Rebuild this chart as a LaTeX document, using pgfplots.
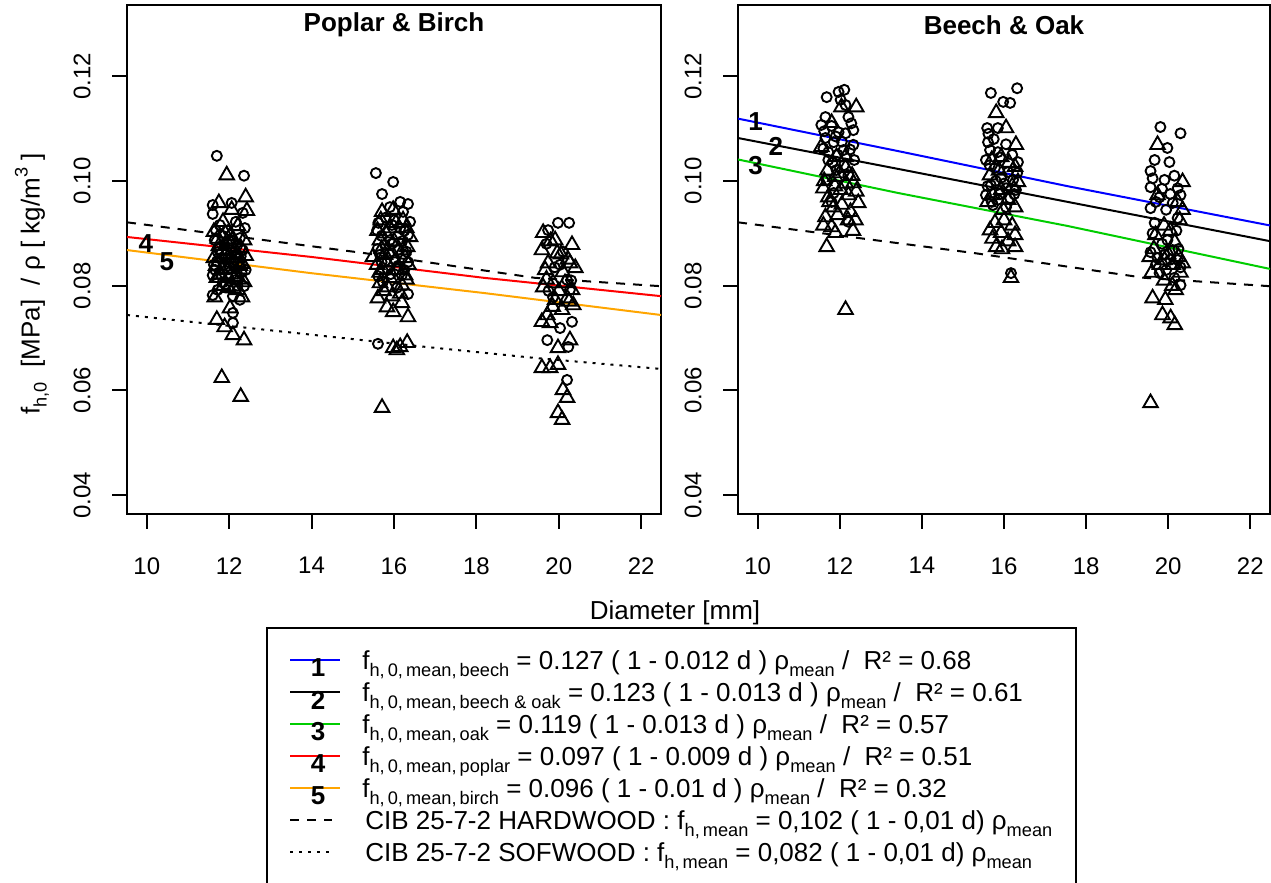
\documentclass[border=0pt]{standalone}
\usepackage{fontspec}
\setmainfont{Liberation Sans}
\usepackage{pgfplots}
\pgfplotsset{compat=1.18}

\definecolor{rgreen}{RGB}{0,205,0}
\definecolor{rorange}{RGB}{255,165,0}

% subscript / superscript helpers for the formula texts
\newcommand{\lsub}[1]{\raisebox{-3.5pt}{\fontsize{9.1}{10}\selectfont #1}}
\newcommand{\lsup}[1]{\raisebox{6pt}{\fontsize{9.1}{10}\selectfont #1}}
\newcommand{\labfont}{\fontsize{13}{15}\selectfont}

\tikzset{numlabel/.style={font=\labfont\bfseries}}

\pgfplotsset{
  circ/.style={only marks, mark=o, mark size=2.5pt,
               mark options={line width=0.95pt, black}},
  tri/.style={only marks, mark=triangle, mark size=4.2pt,
              mark options={line width=0.95pt, black}},
  fitline/.style={no marks, line width=1pt},
  hardwood/.style={no marks, black, line width=1pt, dash pattern=on 4.5pt off 4pt},
  softwood/.style={no marks, black, line width=1pt, dash pattern=on 1.5pt off 3pt},
  panel/.style={
    scale only axis,
    height=254.5pt,
    xmin=9.52, xmax=22.48, ymin=0.0364, ymax=0.1336,
    xtick={10,12,14,16,18,20,22},
    xticklabels={10,12,14,16,18,20,22},
    ytick={0.04,0.06,0.08,0.10,0.12},
    yticklabels={0.04,0.06,0.08,0.10,0.12},
    xtick pos=bottom, ytick pos=left,
    tick align=outside,
    major tick length=7.5pt,
    every major tick/.style={black, line width=1pt},
    axis line style={line width=1pt},
    ticklabel style={font=\fontsize{12}{14}\selectfont},
    yticklabel style={rotate=90, anchor=south, inner sep=0pt},
    xticklabel style={anchor=north, inner sep=0pt},
    xticklabel shift=14pt,
    yticklabel shift=10.5pt,
  }
}

\begin{document}
\begin{tikzpicture}

% ---------------- Poplar & Birch ----------------
\begin{axis}[panel, at={(63.5pt,184.5pt)}, anchor=south west, width=267pt]
\addplot[circ] coordinates {
(11.70,0.1048) (12.36,0.1010) (11.60,0.0954) (12.06,0.0958) (12.33,0.0939)
(11.60,0.0937) (11.77,0.0916) (12.16,0.0922) (11.97,0.0906) (12.38,0.0910)
(11.65,0.0887) (12.26,0.0891) (11.89,0.0878) (12.06,0.0872) (11.72,0.0864)
(12.33,0.0868) (11.92,0.0853) (12.21,0.0845) (11.63,0.0840) (12.02,0.0834)
(12.40,0.0830) (11.80,0.0820) (11.60,0.0820) (12.16,0.0811) (11.92,0.0803)
(12.36,0.0799) (11.72,0.0792) (11.60,0.0782) (12.09,0.0780) (12.26,0.0773)
(12.09,0.0748) (12.09,0.0729) (11.82,0.0853) (12.14,0.0859)
(11.68,0.0905) (11.85,0.0895) (12.00,0.0885) (12.20,0.0878) (11.75,0.0870)
(11.95,0.0866) (12.28,0.0856) (11.70,0.0846) (11.88,0.0840) (12.12,0.0836)
(12.30,0.0825) (11.66,0.0830) (11.98,0.0815) (12.20,0.0800) (11.84,0.0806)
(15.56,0.1015) (15.98,0.0998) (15.71,0.0975) (16.15,0.0960) (16.34,0.0956)
(15.90,0.0950) (16.22,0.0941) (16.39,0.0922) (15.59,0.0906) (15.90,0.0887)
(16.34,0.0897) (16.34,0.0845) (16.34,0.0784) (15.61,0.0689)
(15.78,0.0878) (16.10,0.0868) (15.66,0.0859) (16.02,0.0849) (15.85,0.0830)
(16.19,0.0820) (15.73,0.0807) (16.07,0.0796) (15.95,0.0916) (16.15,0.0910)
(15.62,0.0920) (15.80,0.0930) (16.00,0.0925) (16.25,0.0905) (15.70,0.0895)
(15.95,0.0880) (16.20,0.0885) (15.60,0.0870) (15.88,0.0860) (16.30,0.0865)
(15.70,0.0845) (16.10,0.0838) (15.92,0.0822) (16.25,0.0830) (15.62,0.0818)
(19.98,0.0920) (20.25,0.0920) (19.74,0.0906) (20.20,0.0811) (19.86,0.0778)
(20.32,0.0731) (20.03,0.0719) (19.72,0.0696) (20.23,0.0683) (20.20,0.0620)
(20.03,0.0840) (20.27,0.0792)
(19.70,0.0880) (20.10,0.0865) (19.90,0.0835) (20.30,0.0810) (19.75,0.0790)
};
\addplot[tri] coordinates {
(11.94,0.1011) (12.40,0.0969) (11.75,0.0958) (12.06,0.0945) (12.43,0.0943)
(11.85,0.0922) (12.21,0.0914) (11.63,0.0903) (12.02,0.0895) (12.36,0.0887)
(11.75,0.0876) (12.14,0.0868) (11.92,0.0861) (12.40,0.0857) (11.63,0.0853)
(12.06,0.0845) (12.26,0.0838) (11.82,0.0830) (11.70,0.0815) (12.16,0.0818)
(12.36,0.0807) (11.97,0.0796) (11.65,0.0778) (12.31,0.0778) (12.02,0.0757)
(11.70,0.0735) (11.89,0.0721) (12.09,0.0706) (12.36,0.0696) (11.82,0.0624)
(12.28,0.0588) (11.97,0.0880) (12.21,0.0792)
(11.72,0.0890) (11.90,0.0900) (12.10,0.0888) (12.28,0.0872) (11.84,0.0868)
(12.00,0.0858) (12.20,0.0852) (11.68,0.0838) (11.94,0.0832) (12.32,0.0842)
(11.78,0.0822) (12.06,0.0822) (12.24,0.0812) (11.86,0.0800) (12.10,0.0795)
(15.71,0.0941) (15.98,0.0945) (16.22,0.0925) (15.66,0.0887) (16.39,0.0893)
(15.49,0.0855) (16.32,0.0874) (15.73,0.0830) (16.27,0.0820) (15.61,0.0776)
(15.83,0.0759) (15.98,0.0750) (16.19,0.0767) (16.34,0.0740) (15.98,0.0681)
(16.15,0.0683) (16.32,0.0691) (16.07,0.0677) (15.71,0.0567)
(15.90,0.0910) (16.10,0.0897) (15.78,0.0859) (16.02,0.0845) (15.59,0.0840)
(16.19,0.0801) (15.85,0.0797) (15.95,0.0780) (15.66,0.0805) (16.27,0.0853)
(15.68,0.0925) (16.05,0.0920) (16.30,0.0910) (15.80,0.0900) (15.60,0.0905)
(16.00,0.0885) (16.22,0.0868) (15.70,0.0870) (15.95,0.0862) (16.35,0.0840)
(15.82,0.0845) (16.08,0.0830) (15.65,0.0825) (16.30,0.0812) (15.90,0.0815)
(16.15,0.0785) (15.75,0.0790)
(19.62,0.0901) (19.91,0.0887) (20.32,0.0878) (19.59,0.0868) (19.96,0.0862)
(19.74,0.0843) (20.27,0.0843) (20.40,0.0834) (19.67,0.0830) (20.10,0.0826)
(19.62,0.0797) (19.86,0.0805) (20.20,0.0776) (20.35,0.0763) (20.08,0.0754)
(19.72,0.0744) (19.59,0.0731) (19.79,0.0729) (20.27,0.0696) (19.98,0.0681)
(19.59,0.0643) (19.79,0.0643) (19.98,0.0649) (20.10,0.0601) (20.20,0.0586)
(19.98,0.0557) (20.08,0.0544) (20.15,0.0805) (20.32,0.0792) (19.91,0.0773)
(19.80,0.0885) (20.05,0.0860) (20.22,0.0850) (19.70,0.0812) (20.00,0.0790)
(20.25,0.0770) (19.85,0.0760)
};
% CIB 25-7-2 hardwood and softwood
\addplot[hardwood] coordinates {(9.52,0.0921) (15.30,0.0862) (19.42,0.0815) (22.48,0.0799)};
\addplot[softwood] coordinates {(9.52,0.0744) (13.33,0.0712) (16.78,0.0683) (19.42,0.0662) (22.48,0.0641)};
% fitted poplar (4) and birch (5)
\addplot[fitline, red] coordinates {(9.52,0.0893) (13.98,0.0855) (18.18,0.0815) (22.48,0.0780)};
\addplot[fitline, rorange] coordinates {(9.52,0.0868) (13.98,0.0824) (18.18,0.0786) (22.48,0.0744)};
\node[numlabel] at (axis cs:9.98,0.0880) {4};
\node[numlabel] at (axis cs:10.49,0.0845) {5};
\node[numlabel, yshift=-10pt] at (rel axis cs:0.5,1) {Poplar \& Birch};
\end{axis}

% ---------------- Beech & Oak ----------------
\begin{axis}[panel, at={(369pt,184.5pt)}, anchor=south west, width=266pt]
\addplot[circ] coordinates {
(11.68,0.1160) (11.97,0.1170) (12.11,0.1174) (12.02,0.1155) (12.14,0.1145)
(11.65,0.1122) (11.55,0.1107) (12.21,0.1122) (12.33,0.1097) (11.97,0.1093)
(12.14,0.1091) (11.65,0.1082) (11.85,0.1074) (12.33,0.1069) (11.72,0.1055)
(11.72,0.1040) (11.85,0.0977) (11.80,0.0960) (12.21,0.0922)
(12.09,0.1059) (11.92,0.1021) (12.21,0.1011) (11.68,0.1002)
(11.62,0.1095) (11.80,0.1105) (12.28,0.1110) (11.90,0.1085) (12.05,0.1075)
(12.25,0.1060) (11.60,0.1062) (11.95,0.1050) (12.35,0.1040) (11.82,0.1035)
(12.10,0.1030)
(15.68,0.1168) (16.32,0.1177) (15.98,0.1151) (16.15,0.1149) (15.59,0.1101)
(15.85,0.1101) (15.61,0.1074) (15.66,0.1059) (15.85,0.1055) (15.56,0.1040)
(16.34,0.1036) (15.56,0.0973) (15.73,0.0954) (16.17,0.0824)
(15.78,0.1025) (16.10,0.1017) (15.93,0.1006) (16.22,0.1002) (15.68,0.0992)
(16.05,0.0986) (16.29,0.0983) (15.85,0.0964) (16.15,0.0967)
(15.62,0.1090) (15.75,0.1080) (16.05,0.1070) (15.90,0.1045) (16.20,0.1050)
(15.65,0.1030) (16.32,0.1015) (15.80,0.1000) (16.00,0.0995) (15.60,0.0990)
(16.25,0.0975) (15.90,0.0975) (15.70,0.0960) (16.05,0.0950)
(19.81,0.1103) (20.30,0.1091) (19.98,0.1063) (19.67,0.1040) (20.03,0.1036)
(19.57,0.1019) (19.91,0.1002) (19.57,0.0988) (20.23,0.0986) (19.79,0.0969)
(20.30,0.0973) (19.57,0.0948) (20.11,0.0958) (19.67,0.0920) (20.23,0.0929)
(19.57,0.0864) (19.91,0.0859) (20.23,0.0849) (19.79,0.0824) (20.30,0.0801)
(19.98,0.0887) (19.74,0.0853) (20.11,0.0868)
(19.62,0.1005) (20.15,0.1010) (19.85,0.0985) (20.05,0.0975) (19.70,0.0960)
(19.95,0.0945) (20.20,0.0905) (19.62,0.0900) (19.85,0.0880) (20.25,0.0870)
(19.70,0.0840) (20.05,0.0850) (20.30,0.0835) (19.95,0.0830) (20.15,0.0815)
};
\addplot[tri] coordinates {
(12.04,0.1141) (12.40,0.1141) (11.80,0.1111) (11.55,0.1065) (11.92,0.1046)
(12.14,0.1046) (12.14,0.1025) (11.89,0.1008) (12.33,0.0996) (11.60,0.0986)
(11.85,0.0950) (12.45,0.0958) (12.26,0.0941) (11.65,0.0931) (12.38,0.0925)
(11.80,0.0912) (11.89,0.0901) (11.68,0.0874) (12.14,0.0754)
(12.02,0.0983) (11.72,0.0969) (12.21,0.0973)
(11.70,0.1020) (12.00,0.1015) (12.30,0.1010) (11.62,0.1000) (11.88,0.0990)
(12.15,0.0995) (12.40,0.0980) (11.75,0.0960) (12.05,0.0955) (11.95,0.0935)
(12.20,0.0925) (11.60,0.0915) (12.32,0.0905)
(15.81,0.1130) (16.05,0.1101) (16.29,0.1069) (15.93,0.1046) (16.27,0.1027)
(15.66,0.1011) (16.34,0.0998) (15.93,0.0983) (16.27,0.0950) (15.98,0.0945)
(15.78,0.0920) (15.66,0.0906) (15.93,0.0901) (16.27,0.0897) (15.81,0.0874)
(16.27,0.0874) (16.17,0.0815) (15.73,0.0973) (16.10,0.0964)
(15.70,0.1040) (16.12,0.1035) (15.88,0.1020) (16.20,0.0990) (15.60,0.0960)
(16.00,0.0925) (16.20,0.0915) (15.72,0.0890) (16.10,0.0885) (15.95,0.0870)
(19.74,0.1069) (20.35,0.0998) (19.74,0.0973) (20.23,0.0960) (20.35,0.0945)
(20.28,0.0925) (19.69,0.0897) (20.16,0.0883) (19.55,0.0855) (19.91,0.0849)
(20.11,0.0840) (20.35,0.0843) (20.18,0.0792) (19.62,0.0776) (19.93,0.0773)
(19.86,0.0744) (20.06,0.0738) (20.16,0.0725) (19.57,0.0576)
(19.90,0.0915) (20.05,0.0905) (19.65,0.0870) (20.25,0.0855) (19.80,0.0840)
(20.00,0.0860) (20.30,0.0825) (19.60,0.0825) (19.90,0.0810) (20.10,0.0800)
};
\addplot[hardwood] coordinates {(9.52,0.0921) (15.30,0.0862) (19.42,0.0815) (22.48,0.0799)};
% fitted beech (1), beech & oak (2), oak (3)
\addplot[fitline, blue] coordinates {(9.52,0.1119) (13.42,0.1057) (17.55,0.0990) (22.48,0.0915)};
\addplot[fitline, black] coordinates {(9.52,0.1082) (13.42,0.1023) (17.55,0.0960) (22.48,0.0885)};
\addplot[fitline, rgreen] coordinates {(9.52,0.1041) (13.42,0.0977) (17.55,0.0914) (22.48,0.0832)};
\node[numlabel] at (axis cs:9.95,0.1114) {1};
\node[numlabel] at (axis cs:10.44,0.1065) {2};
\node[numlabel] at (axis cs:9.95,0.1029) {3};
\node[numlabel, yshift=-10pt] at (rel axis cs:0.5,1) {Beech \& Oak};
\end{axis}

% ---------------- shared axis titles ----------------
\node[font=\labfont] at (337.5pt,135pt) {Diameter [mm]};
\node[font=\labfont, rotate=90] at (16pt,299.5pt)
  {f\lsub{h,0}\ \ [MPa]\ \ / ρ [ kg/m\lsup{3} ]};

% ---------------- legend ----------------
\draw[line width=1pt] (133.5pt,-10pt) -- (133.5pt,127.5pt) -- (538pt,127.5pt) -- (538pt,-10pt);
\begin{scope}[every node/.style={font=\labfont, inner sep=0pt}]
  \draw[blue, line width=1pt] (145pt,111.5pt) -- (170pt,111.5pt);
  \draw[black, line width=1pt] (145pt,95.5pt) -- (170pt,95.5pt);
  \draw[rgreen, line width=1pt] (145pt,79.5pt) -- (170pt,79.5pt);
  \draw[red, line width=1pt] (145pt,63.5pt) -- (170pt,63.5pt);
  \draw[rorange, line width=1pt] (145pt,47.5pt) -- (170pt,47.5pt);
  \draw[black, line width=1pt, dash pattern=on 4.5pt off 4pt] (145pt,31.5pt) -- (166pt,31.5pt);
  \draw[black, line width=1pt, dash pattern=on 1.5pt off 3pt] (145pt,15.5pt) -- (166pt,15.5pt);
  \foreach \n/\yy in {1/111.5,2/95.5,3/79.5,4/63.5,5/47.5}
    \node[font=\labfont\bfseries] at (159pt,\yy pt-4pt) {\n};
  \node[anchor=base west] at (181pt,106.85pt)
    {f\lsub{h,\,0,\,mean,\,beech} = 0.127 ( 1 - 0.012 d ) ρ\lsub{mean} /\ \ R² = 0.68};
  \node[anchor=base west] at (181pt,90.85pt)
    {f\lsub{h,\,0,\,mean,\,beech \& oak} = 0.123 ( 1 - 0.013 d ) ρ\lsub{mean} /\ \ R² = 0.61};
  \node[anchor=base west] at (181pt,74.85pt)
    {f\lsub{h,\,0,\,mean,\,oak} = 0.119 ( 1 - 0.013 d ) ρ\lsub{mean} /\ \ R² = 0.57};
  \node[anchor=base west] at (181pt,58.85pt)
    {f\lsub{h,\,0,\,mean,\,poplar} = 0.097 ( 1 - 0.009 d ) ρ\lsub{mean} /\ \ R² = 0.51};
  \node[anchor=base west] at (181pt,42.85pt)
    {f\lsub{h,\,0,\,mean,\,birch} = 0.096 ( 1 - 0.01 d ) ρ\lsub{mean} /\ \ R² = 0.32};
  \node[anchor=base west] at (182.5pt,26.85pt)
    {CIB 25-7-2 HARDWOOD : f\lsub{h,\,mean} = 0,102 ( 1 - 0,01 d) ρ\lsub{mean}};
  \node[anchor=base west] at (182.5pt,10.85pt)
    {CIB 25-7-2 SOFWOOD : f\lsub{h,\,mean} = 0,082 ( 1 - 0,01 d) ρ\lsub{mean}};
\end{scope}

\pgfresetboundingbox
\useasboundingbox (0pt,0pt) rectangle (635.5pt,441.5pt);
\end{tikzpicture}
\end{document}
